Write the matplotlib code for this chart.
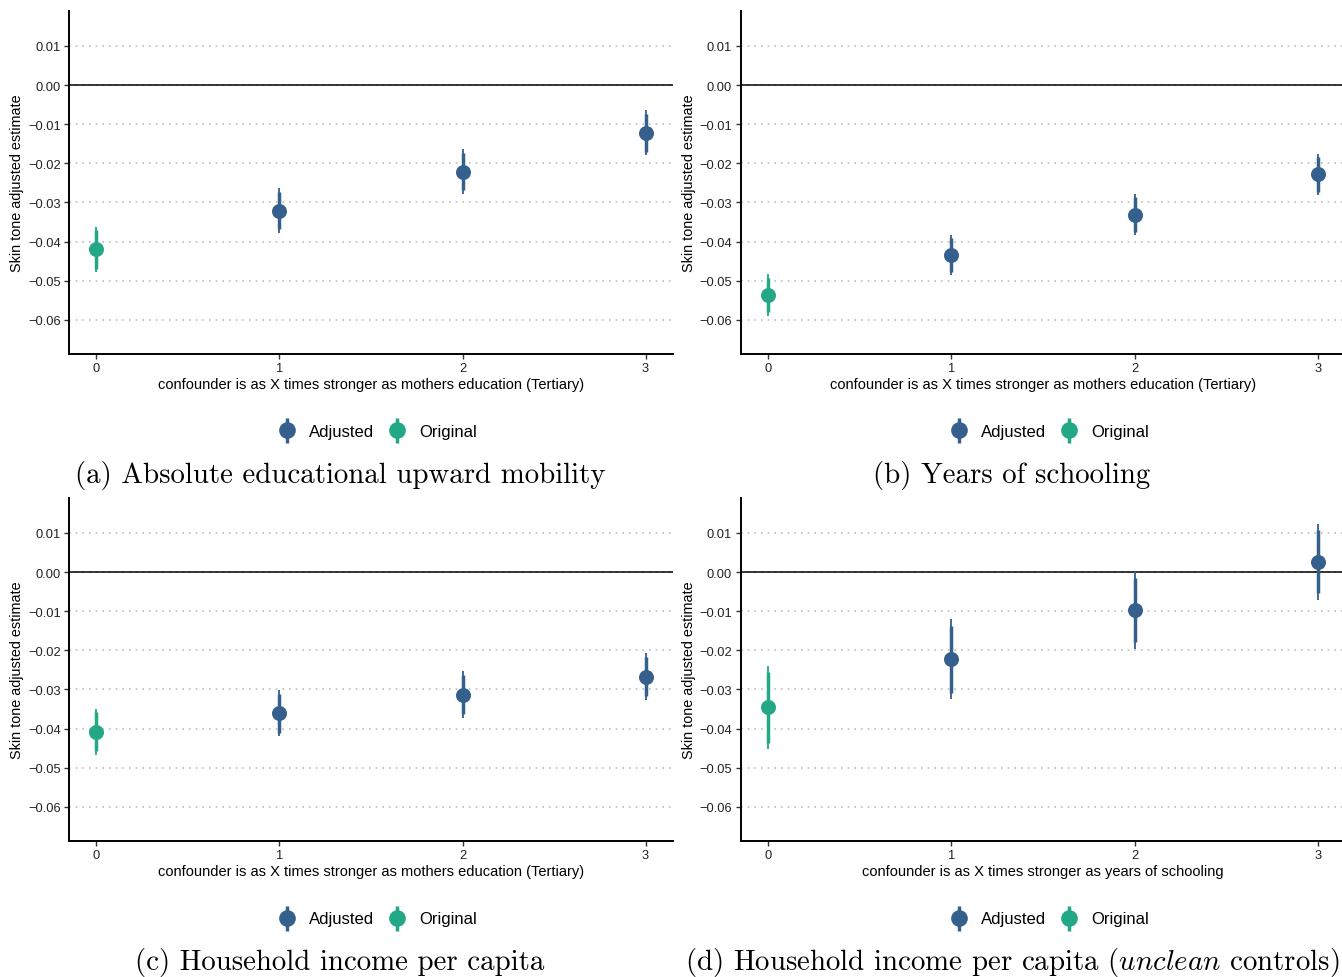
import numpy as np
import matplotlib
matplotlib.use("Agg")
import matplotlib.pyplot as plt
from matplotlib.lines import Line2D
from matplotlib.legend_handler import HandlerTuple

plt.rcParams['font.family'] = ['Liberation Sans', 'DejaVu Sans']
plt.rcParams['mathtext.fontset'] = 'cm'

# confounder strength multipliers (0 = original estimate)
strength = [0, 1, 2, 3]
kind = ['Original', 'Adjusted', 'Adjusted', 'Adjusted']

# point estimates for each outcome
est_mobility = [-0.0420, -0.0321, -0.0221, -0.0122]
est_schooling = [-0.0536, -0.0434, -0.0331, -0.0228]
est_income = [-0.0408, -0.0361, -0.0313, -0.0267]
est_income_unclean = [-0.0346, -0.0223, -0.0097, 0.0026]

# half widths of the outer (95%) and inner (90%) intervals
ci95_mobility = [0.0058, 0.0058, 0.0058, 0.0058]
ci90_mobility = [0.0049, 0.0048, 0.0048, 0.0048]
ci95_schooling = [0.0053, 0.0052, 0.0052, 0.0052]
ci90_schooling = [0.0044, 0.0044, 0.0044, 0.0044]
ci95_income = [0.0059, 0.0059, 0.0059, 0.0059]
ci90_income = [0.0050, 0.0050, 0.0050, 0.0050]
ci95_income_unclean = [0.0105, 0.0102, 0.0099, 0.0097]
ci90_income_unclean = [0.0090, 0.0085, 0.0082, 0.0080]

xlab_edu = 'confounder is as X times stronger as mothers education (Tertiary)'
xlab_school = 'confounder is as X times stronger as years of schooling'
captions = ['(a) Absolute educational upward mobility',
            '(b) Years of schooling',
            '(c) Household income per capita',
            r'(d) Household income per capita ($\mathit{unclean}$ controls)']

panels = [
    (est_mobility, ci95_mobility, ci90_mobility, xlab_edu),
    (est_schooling, ci95_schooling, ci90_schooling, xlab_edu),
    (est_income, ci95_income, ci90_income, xlab_edu),
    (est_income_unclean, ci95_income_unclean, ci90_income_unclean, xlab_school),
]

colors = {'Adjusted': '#355F8D', 'Original': '#22A884'}
yticks = [0.01, 0.00, -0.01, -0.02, -0.03, -0.04, -0.05, -0.06]

W, H = 1342, 978
fig = plt.figure(figsize=(W / 100, H / 100), dpi=100)

# axes boxes in pixels: left, top, right, bottom
boxes = [(69, 12, 673, 355), (740.5, 12, 1345.5, 355),
         (69, 499, 673, 842), (740.5, 499, 1345.5, 842)]
legend_pos = [(378, 432), (1050, 432), (378, 920), (1050, 920)]
caption_pos = [(340, 476), (1012, 476), (340, 963), (1012, 963)]

for i, (est, c95, c90, xlab) in enumerate(panels):
    l, t, r, b = boxes[i]
    ax = fig.add_axes([l / W, 1 - b / H, (r - l) / W, (b - t) / H])
    ax.set_xlim(-0.15, 3.15)
    ax.set_ylim(-0.0687, 0.0189)
    ax.set_yticks(yticks)
    ax.set_yticklabels(['%.2f' % v if v >= 0 else '\u2212%.2f' % abs(v) for v in yticks])
    ax.set_xticks(strength)
    ax.yaxis.grid(True, linestyle=(0, (1, 3)), color='#BEBEBE', lw=1.2)
    ax.set_axisbelow(True)
    ax.axhline(0, color='black', lw=1.1, zorder=1)

    for x, e, w95, w90, k in zip(strength, est, c95, c90, kind):
        ax.vlines(x, e - w95, e + w95, color=colors[k], lw=1.3, zorder=3)
        ax.vlines(x, e - w90, e + w90, color=colors[k], lw=2.5, zorder=3)
        ax.plot(x, e, 'o', color=colors[k], ms=10.8, mew=0, zorder=4)

    for s in ['top', 'right']:
        ax.spines[s].set_visible(False)
    for s in ['left', 'bottom']:
        ax.spines[s].set_linewidth(1.4)
    ax.tick_params(direction='out', length=3.5, width=1, color='#333333',
                   labelsize=9.3, labelcolor='#222222', pad=2.5)
    ax.set_ylabel('Skin tone adjusted estimate', fontsize=10.4, labelpad=2.5)
    ax.set_xlabel(xlab, fontsize=10.5, labelpad=2)

    handles = []
    for k in ['Adjusted', 'Original']:
        bar = Line2D([], [], marker='|', ls='none', color=colors[k], ms=18, mew=2.5)
        dot = Line2D([], [], marker='o', ls='none', color=colors[k], ms=12, mew=0)
        handles.append((bar, dot))
    lx, ly = legend_pos[i]
    fig.legend(handles, ['Adjusted', 'Original'], handler_map={tuple: HandlerTuple(ndivide=1)},
               loc='center', bbox_to_anchor=(lx / W, 1 - ly / H), ncol=2, frameon=False,
               fontsize=12, handlelength=0.9, handletextpad=0.9, columnspacing=0.9)

    cx, cy = caption_pos[i]
    fig.text(cx / W, 1 - cy / H, captions[i], ha='center', va='center',
             family='cmr10', fontsize=20.8)

fig.savefig('out.png', dpi=100)
